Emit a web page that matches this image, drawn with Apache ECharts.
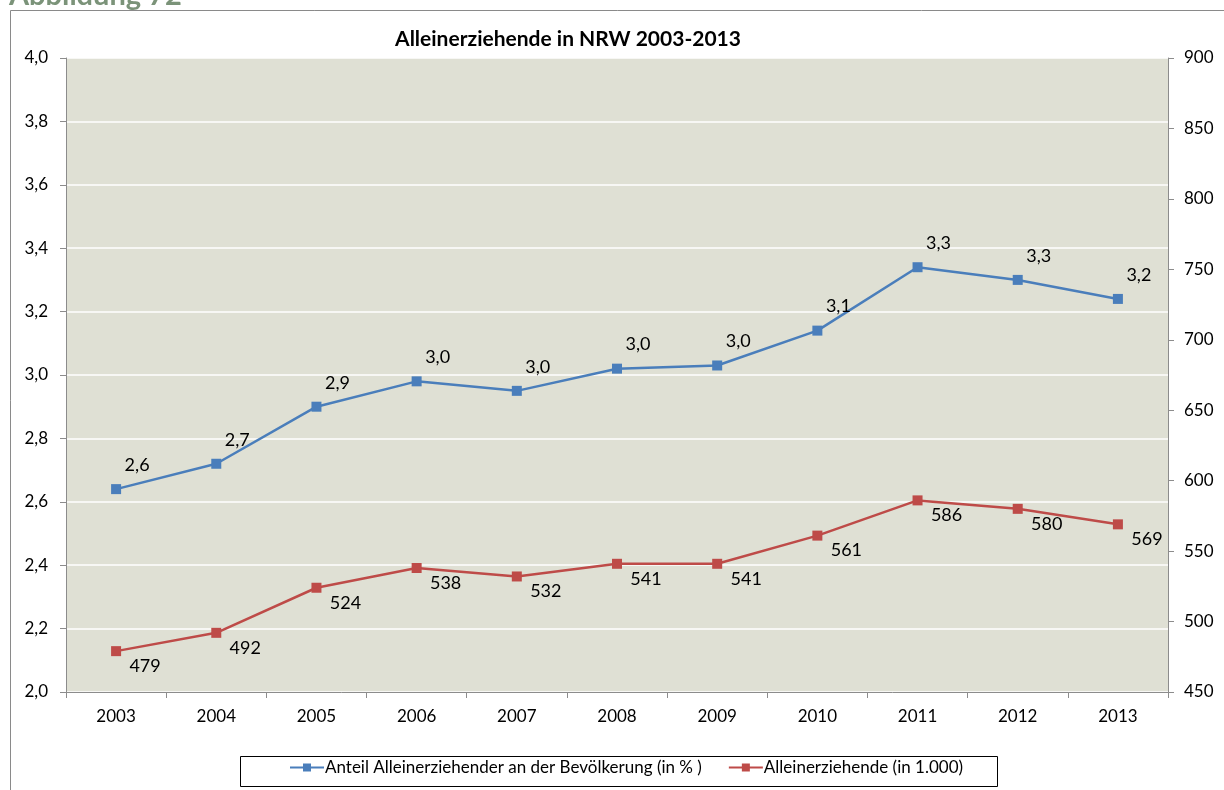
<!DOCTYPE html>
<html><head><meta charset="utf-8">
<script src="https://cdn.jsdelivr.net/npm/echarts@6/dist/echarts.min.js"></script>
<style>html,body{margin:0;padding:0;background:#fff}#c{width:1224px;height:790px}</style>
</head><body><div id="c"></div>
<script>
const years = ['2003','2004','2005','2006','2007','2008','2009','2010','2011','2012','2013'];
const shareValues = [2.64, 2.72, 2.90, 2.98, 2.95, 3.02, 3.03, 3.14, 3.34, 3.30, 3.24];
const countValues = [479, 492, 524, 538, 532, 541, 541, 561, 586, 580, 569];
const shareName = 'Anteil Alleinerziehender an der Bevölkerung (in % )';
const countName = 'Alleinerziehende (in 1.000)';
const titleText = 'Alleinerziehende in NRW 2003-2013';
const figureText = 'Abbildung 72';

const FONT = 'Lato, "Open Sans", sans-serif';
const chart = echarts.init(document.getElementById('c'));
chart.setOption({
  animation: false,
  backgroundColor: '#fff',
  textStyle: {fontFamily: FONT},
  title: {text: titleText, left: 563, top: 24, textAlign: 'center',
    textStyle: {fontFamily: FONT, fontSize: 21, fontWeight: 'bold', color: '#000'}},
  graphic: [
    {type: 'rect', shape: {x: 10.5, y: 10.5, width: 1230, height: 800}, style: {fill: 'none', stroke: '#8a8a8a', lineWidth: 1}, z: -1},
    {type: 'text', left: 9, top: -19, style: {text: figureText, fontFamily: FONT, fontSize: 29, fontWeight: 'bold', fill: '#7b9379'}},
    {type: 'rect', shape: {x: 240.5, y: 756.5, width: 757, height: 30}, style: {fill: '#fff', stroke: '#000', lineWidth: 1}, z: 0}
  ],
  legend: {
    bottom: 9, left: 284, itemGap: 26, itemWidth: 34, itemHeight: 10,
    data: [shareName, countName],
    textStyle: {fontFamily: FONT, fontSize: 17, color: '#000', padding: [0,0,0,-4]},
    z: 5
  },
  grid: {left: 66, right: 56, top: 58, bottom: 98, show: true, backgroundColor: '#dfe0d4', borderWidth: 0},
  xAxis: {
    type: 'category', data: years, boundaryGap: true,
    axisLine: {lineStyle: {color: '#8c8c8c', width: 1}},
    axisTick: {show: true, length: 6, lineStyle: {color: '#8c8c8c'}},
    axisLabel: {fontFamily: FONT, fontSize: 17, color: '#000', margin: 16}
  },
  yAxis: [
    {type: 'value', min: 2.0, max: 4.0, interval: 0.2,
      axisLine: {show: true, lineStyle: {color: '#8c8c8c'}},
      axisTick: {show: true, length: 6, lineStyle: {color: '#8c8c8c'}},
      splitLine: {show: true, lineStyle: {color: '#ffffff', width: 1.5}},
      axisLabel: {fontFamily: FONT, fontSize: 17, color: '#000', margin: 18,
        formatter: v => v.toFixed(1).replace('.', ',')}},
    {type: 'value', min: 450, max: 900, interval: 50, position: 'right',
      axisLine: {show: true, lineStyle: {color: '#8c8c8c'}},
      axisTick: {show: true, length: 6, lineStyle: {color: '#8c8c8c'}},
      splitLine: {show: false},
      axisLabel: {fontFamily: FONT, fontSize: 17, color: '#000', margin: 16}}
  ],
  series: [
    {name: shareName, type: 'line', yAxisIndex: 0, data: shareValues,
      symbol: 'rect', symbolSize: 10, color: '#4a7ebb',
      lineStyle: {width: 2.5, color: '#4a7ebb'}, itemStyle: {color: '#4a7ebb'},
      label: {show: true, position: 'top', offset: [21, -5], fontFamily: FONT, fontSize: 18, color: '#000',
        formatter: p => p.value.toFixed(1).replace('.', ',')}},
    {name: countName, type: 'line', yAxisIndex: 1, data: countValues,
      symbol: 'rect', symbolSize: 10, color: '#be4b48',
      lineStyle: {width: 2.5, color: '#be4b48'}, itemStyle: {color: '#be4b48'},
      label: {show: true, position: 'bottom', offset: [29, -4], fontFamily: FONT, fontSize: 18, color: '#000'}}
  ]
});
</script></body></html>
